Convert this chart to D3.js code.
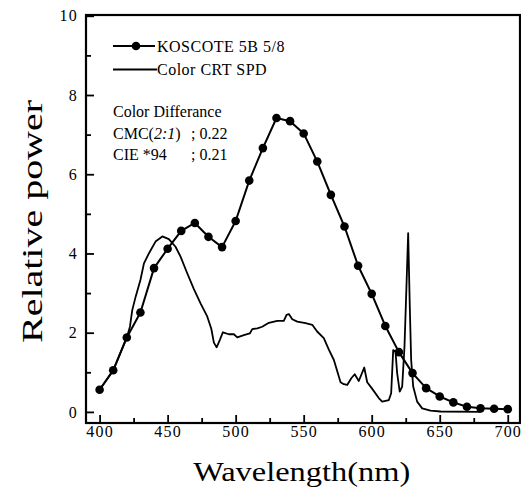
<!DOCTYPE html>
<html>
<head>
<meta charset="utf-8">
<script src="https://cdn.jsdelivr.net/npm/d3@7"></script>
<style>
  html, body { margin: 0; padding: 0; background: #fff; }
  svg { display: block; }
  text { font-family: "Liberation Serif", "Times New Roman", serif; fill: #000; }
</style>
</head>
<body>
<svg id="chart" width="521" height="495"></svg>
<script>
// KOSCOTE 5B 5/8 measured points (every 10 nm)
const kosNm = [400, 410, 420, 430, 440, 450, 460, 470, 480, 490, 500, 510, 520, 530, 540, 550,
  560, 570, 580, 590, 600, 610, 620, 630, 640, 650, 660, 670, 680, 690, 700];
const kosPower = [0.56, 1.05, 1.88, 2.51, 3.63, 4.12, 4.57, 4.77, 4.42, 4.16, 4.82, 5.84, 6.66, 7.42, 7.34, 7.03,
  6.32, 5.48, 4.68, 3.69, 2.98, 2.17, 1.51, 0.98, 0.60, 0.39, 0.24, 0.13, 0.09, 0.08, 0.07];

// Color CRT spectral power distribution (traced)
const crtNm = [400, 410, 420, 422.3, 424, 426.5, 430, 432.6, 436.2, 441.1, 446.1, 450.9, 455.8, 459.5,
  464.4, 469.3, 474.2, 479.1, 482.1, 484, 486, 488.4, 490.6, 495, 498.7, 501.2, 506, 510.4, 512.2,
  515.9, 519.5, 524.4, 530.6, 535.4, 537.4, 539.1, 541.6, 545.3, 551.4, 556.3, 559.9, 564.8, 568.5,
  572.2, 577.1, 579.5, 582, 585, 587.5, 590.5, 594.5, 596.7, 600, 605.2, 607.7, 612.6, 614.3, 615.8,
  617.5, 618.7, 620.6, 622.4, 624.1, 625.3, 626.8, 628, 629, 630.5, 633.4, 637.1, 643.2, 650.6, 680];
const crtPower = [0.56, 1.05, 1.88, 2.15, 2.57, 2.91, 3.33, 3.75, 4.00, 4.30, 4.43, 4.36, 4.17, 3.92,
  3.50, 3.10, 2.74, 2.41, 2.10, 1.75, 1.63, 1.82, 2.01, 1.96, 1.96, 1.88, 1.94, 1.98, 2.09,
  2.11, 2.15, 2.25, 2.30, 2.30, 2.45, 2.47, 2.34, 2.28, 2.24, 2.20, 2.03, 1.86, 1.57,
  1.31, 0.75, 0.70, 0.68, 0.85, 0.95, 0.78, 1.12, 0.75, 0.60, 0.35, 0.26, 0.30, 0.47, 1.56,
  1.52, 0.98, 0.51, 0.64, 1.65, 2.91, 4.51, 2.65, 1.31, 0.64, 0.26, 0.09, 0.03, 0.01, 0.0];

const xTicks = [400, 450, 500, 550, 600, 650, 700];
const xMinor = [425, 475, 525, 575, 625, 675];
const yTicks = [0, 2, 4, 6, 8, 10];
const yMinor = [1, 3, 5, 7, 9];

const legendLabels = ['KOSCOTE 5B 5/8', 'Color CRT SPD'];
const noteLines = [
  { parts: [['Color Differance', false]], value: '' },
  { parts: [['CMC(', false], ['2:1', true], [')', false]], value: '; 0.22' },
  { parts: [['CIE *94', false]], value: '; 0.21' }
];

const svg = d3.select('#chart');
const frame = { left: 86, right: 520, top: 15, bottom: 423 };

const x = d3.scaleLinear().domain([390, 709]).range([frame.left, frame.right]);
const y = d3.scaleLinear().domain([-0.28, 10.02]).range([frame.bottom, frame.top]);

// axes, ticks pointing inward
const xAxis = svg.append('g').attr('transform', `translate(0,${frame.bottom})`)
  .call(d3.axisBottom(x).tickValues(xTicks).tickSize(-8).tickPadding(3).tickFormat(d3.format('d')));
svg.append('g').attr('transform', `translate(0,${frame.bottom})`)
  .call(d3.axisBottom(x).tickValues(xMinor).tickSize(-5).tickFormat(''));
const yAxis = svg.append('g').attr('transform', `translate(${frame.left},0)`)
  .call(d3.axisLeft(y).tickValues(yTicks).tickSize(-8).tickPadding(8).tickFormat(d3.format('d')));
svg.append('g').attr('transform', `translate(${frame.left},0)`)
  .call(d3.axisLeft(y).tickValues(yMinor).tickSize(-5).tickFormat(''));

svg.selectAll('.domain').remove();
svg.selectAll('.tick line').attr('stroke', '#000').attr('stroke-width', 1.8);
[xAxis, yAxis].forEach(a => a.selectAll('text')
  .style('font-family', '"Liberation Serif", serif')
  .style('font-size', '16px')
  .style('letter-spacing', '1.2px'));

svg.append('rect')
  .attr('x', frame.left).attr('y', frame.top)
  .attr('width', frame.right - frame.left).attr('height', frame.bottom - frame.top)
  .attr('fill', 'none').attr('stroke', '#000').attr('stroke-width', 2.2);

// CRT curve
const crt = crtNm.map((n, i) => ({ nm: n, v: crtPower[i] }));
const kos = kosNm.map((n, i) => ({ nm: n, v: kosPower[i] }));
const line = d3.line().x(d => x(d.nm)).y(d => y(d.v));

svg.append('path').datum(crt)
  .attr('d', line).attr('fill', 'none').attr('stroke', '#000')
  .attr('stroke-width', 1.8).attr('stroke-linejoin', 'round');

svg.append('path').datum(kos)
  .attr('d', line).attr('fill', 'none').attr('stroke', '#000')
  .attr('stroke-width', 2).attr('stroke-linejoin', 'round');
svg.append('g').selectAll('circle').data(kos).join('circle')
  .attr('cx', d => x(d.nm)).attr('cy', d => y(d.v)).attr('r', 4.3).attr('fill', '#000');

// legend
const lg = svg.append('g').style('font-size', '16px');
lg.append('line').attr('x1', 113).attr('x2', 155).attr('y1', 46).attr('y2', 46)
  .attr('stroke', '#000').attr('stroke-width', 2);
lg.append('circle').attr('cx', 136).attr('cy', 46).attr('r', 4.3).attr('fill', '#000');
lg.append('text').attr('x', 157).attr('y', 51.5).style('letter-spacing', '0.5px').text(legendLabels[0]);
lg.append('line').attr('x1', 113).attr('x2', 157).attr('y1', 69.5).attr('y2', 69.5)
  .attr('stroke', '#000').attr('stroke-width', 1.8);
lg.append('text').attr('x', 157).attr('y', 75).style('letter-spacing', '0.5px').text(legendLabels[1]);

// colour difference note
const noteY = [117, 139, 160];
noteLines.forEach((ln, i) => {
  const t = lg.append('text').attr('x', 113).attr('y', noteY[i]);
  ln.parts.forEach(([s, it]) => t.append('tspan').style('font-style', it ? 'italic' : 'normal').text(s));
  if (ln.value) lg.append('text').attr('x', 191).attr('y', noteY[i]).text(ln.value);
});

// axis titles
svg.append('text')
  .attr('x', 301.7).attr('y', 481)
  .attr('text-anchor', 'middle')
  .attr('textLength', 217).attr('lengthAdjust', 'spacingAndGlyphs')
  .style('font-size', '28px')
  .text('Wavelength(nm)');

svg.append('text')
  .attr('transform', 'translate(42,221.5) rotate(-90)')
  .attr('text-anchor', 'middle')
  .attr('textLength', 243).attr('lengthAdjust', 'spacingAndGlyphs')
  .style('font-size', '30px')
  .text('Relative power');
</script>
</body>
</html>
